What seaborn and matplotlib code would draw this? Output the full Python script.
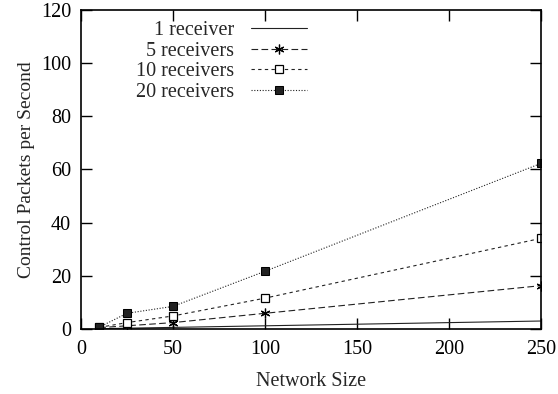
import matplotlib
matplotlib.use("Agg")
import matplotlib.pyplot as plt
import seaborn as sns
import numpy as np
import pandas as pd

network_size = [10, 25, 50, 100, 250]
recv_1 = [0.1, 0.3, 0.6, 1.2, 3.0]
recv_5 = [0.5, 1.2, 2.4, 5.9, 16.3]
recv_10 = [0.6, 2.4, 4.9, 11.6, 34.1]
recv_20 = [0.7, 5.9, 8.5, 21.7, 62.3]
labels = ["1 receiver", "5 receivers", "10 receivers", "20 receivers"]
x_ticks = [0, 50, 100, 150, 200, 250]
y_ticks = [0, 20, 40, 60, 80, 100, 120]

sns.set_theme(style="ticks")
plt.rcParams["font.family"] = ["Liberation Serif", "DejaVu Serif"]
FS = 14.5
plt.rcParams["font.size"] = FS

fig = plt.figure(figsize=(5.58, 3.94), dpi=100)
ax = fig.add_axes([0.145, 0.165, 0.8245, 0.8096])

series = [recv_1, recv_5, recv_10, recv_20]
styles = [
    dict(linestyle="-", marker=None),
    dict(linestyle=(0, (6, 3)), marker=(6, 2, 0), markersize=7, markeredgewidth=0.9),
    dict(linestyle=(0, (3, 3)), marker="s", markersize=6.2, markerfacecolor="white",
         markeredgewidth=0.9),
    dict(linestyle=(0, (1, 1.5)), marker="s", markersize=6.3),
]
for vals, lab, st in zip(series, labels, styles):
    df = pd.DataFrame({"x": network_size, "y": vals})
    sns.lineplot(data=df, x="x", y="y", ax=ax, color="#222222", linewidth=0.8,
                 label=lab, markeredgecolor="black", **st)

ax.set_xlim(0, 250)
ax.set_ylim(0, 120)
ax.set_xticks(x_ticks)
ax.set_yticks(y_ticks)
ax.tick_params(direction="in", length=8, width=1, top=True, right=True,
               labelsize=FS, colors="black")
ax.tick_params(axis="x", pad=8)
ax.tick_params(axis="y", pad=7)
for s in ax.spines.values():
    s.set_visible(True)
    s.set_linewidth(1.2)
    s.set_color("black")
ax.set_xlabel("Network Size", fontsize=FS, labelpad=9)
ax.set_ylabel("Control Packets per Second", fontsize=14, labelpad=4)

leg = ax.legend(loc="upper left", bbox_to_anchor=(0.12, 0.965), frameon=False,
                markerfirst=False, handlelength=2.75, handletextpad=0.85,
                labelspacing=0.07, fontsize=FS, borderaxespad=0.0, borderpad=0.0)
for col in leg._legend_handle_box.get_children():
    col.align = "right"

fig.savefig("out.png", dpi=100)
